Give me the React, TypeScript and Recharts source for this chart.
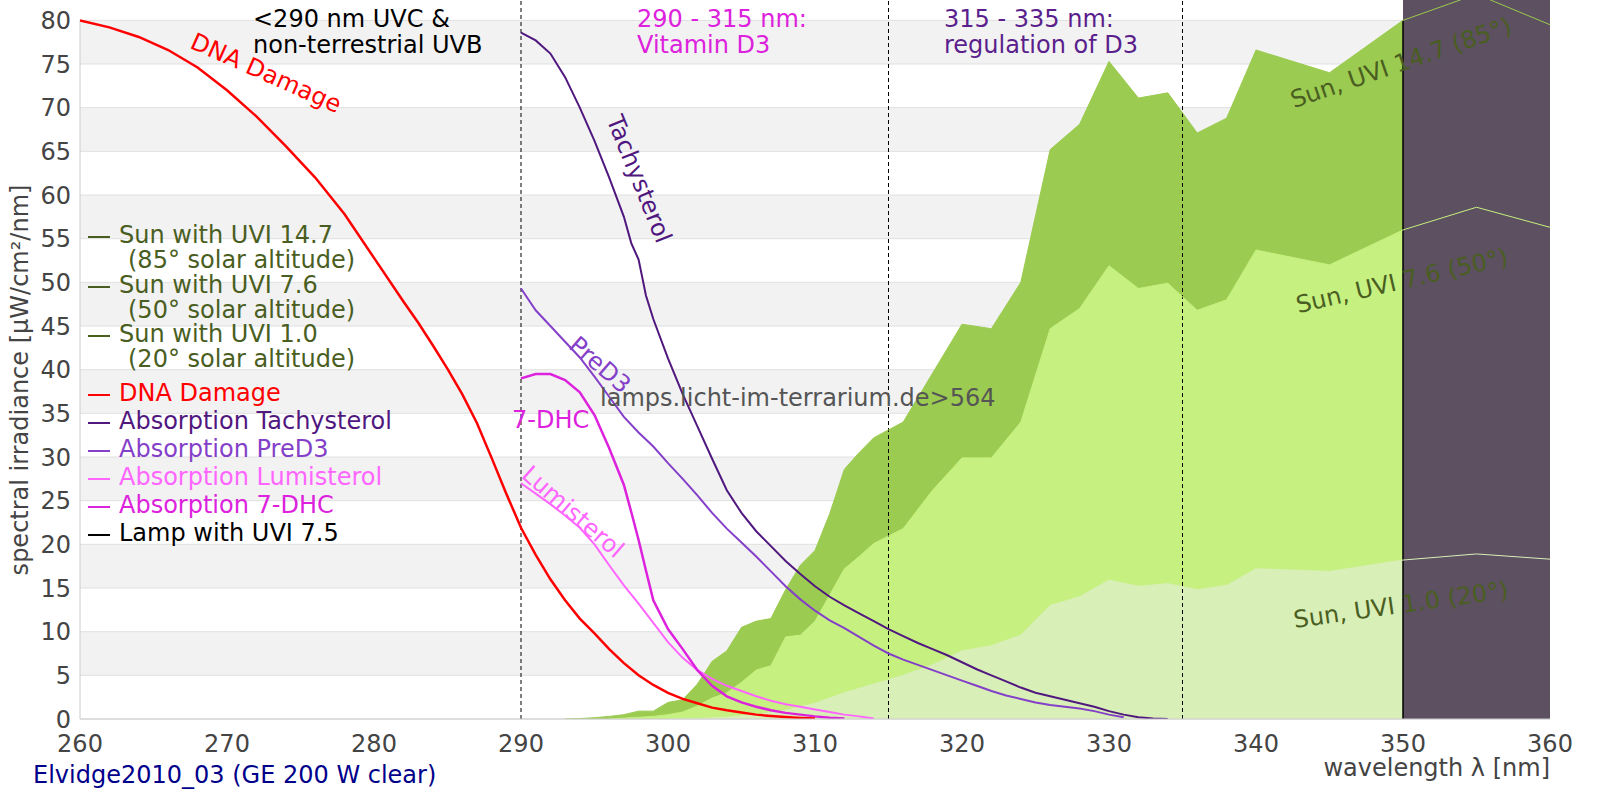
import { ComposedChart, Area, Line, XAxis, YAxis, ReferenceArea, ReferenceLine } from 'recharts';

// axis + background
const xTicks = [260, 270, 280, 290, 300, 310, 320, 330, 340, 350, 360];
const yTicks = [0, 5, 10, 15, 20, 25, 30, 35, 40, 45, 50, 55, 60, 65, 70, 75, 80];
const bandStarts = [5, 15, 25, 35, 45, 55, 65, 75];
const zoneBorders = [290, 315, 335];

// sun spectra (µW/cm²/nm)
const sun147Nm = [293, 294, 295, 296, 297, 298, 299, 300, 301, 302, 303, 304, 305, 306, 307, 308, 309, 310, 311, 312, 313, 314,
  316, 318, 320, 322, 324, 326, 328, 330, 332, 334, 336, 338, 340, 345, 350, 355, 360];
const sun147 = [0, 0.05, 0.15, 0.3, 0.5, 0.9, 0.9, 1.9, 2.2, 4.0, 6.6, 7.8, 10.5, 11.2, 11.5, 14.8, 17.6, 19.3, 23.5, 28.6, 30.5, 32.2,
  34.0, 39.6, 45.2, 44.7, 50.0, 65.2, 68.1, 75.3, 71.1, 71.7, 67.1, 68.8, 76.6, 74.0, 80.0, 83.0, 79.5];

const sun76Nm = [296, 297, 298, 299, 300, 301, 302, 303, 304, 305, 306, 307, 308, 309, 310, 311, 312, 313, 314,
  316, 318, 320, 322, 324, 326, 328, 330, 332, 334, 336, 338, 340, 345, 350, 355, 360];
const sun76 = [0, 0.1, 0.2, 0.3, 0.5, 0.8, 1.5, 2.4, 3.0, 4.2, 5.6, 6.1, 9.4, 9.6, 11.2, 14.2, 17.2, 18.6, 20.1,
  21.8, 26.2, 29.9, 29.9, 34.0, 44.7, 47.0, 51.9, 49.3, 49.9, 46.8, 48.0, 53.7, 52.0, 56.0, 58.6, 56.3];

const sun10Nm = [300, 302, 304, 306, 308, 310, 312, 314, 316, 318, 320, 322, 324, 326, 328, 330, 332, 334, 336, 338, 340, 345, 350, 355, 360];
const sun10 = [0, 0.05, 0.2, 0.5, 1.0, 1.8, 3.0, 4.0, 5.0, 6.2, 7.8, 8.4, 9.6, 13.0, 14.0, 15.9, 15.2, 15.5, 14.8, 15.3, 17.2, 16.9, 18.2, 18.9, 18.3];

// lamp (off scale from 350 nm)
const lampNm = [350, 355, 360];
const lamp = [95, 95, 95];

// action / absorption spectra (scaled)
const dnaNm = [260, 262, 264, 266, 268, 270, 272, 274, 276, 278, 280, 282, 283, 284, 285, 286, 287, 288, 289, 290,
  291, 292, 293, 294, 295, 296, 297, 298, 299, 300, 301, 302, 303, 304, 305, 306, 307, 308, 309, 310];
const dna = [80, 79.2, 78.1, 76.6, 74.6, 72.0, 69.0, 65.6, 62.0, 57.8, 52.8, 47.8, 45.4, 42.8, 40.1, 37.2, 33.9, 29.9, 25.8, 21.9,
  18.8, 16.0, 13.6, 11.5, 9.8, 8.0, 6.4, 5.0, 3.9, 3.0, 2.3, 1.8, 1.3, 1.0, 0.75, 0.5, 0.35, 0.22, 0.12, 0.05];

const tachyNm = [290, 291, 292, 293, 294, 295, 296, 297, 297.5, 298, 298.5, 299,
  300, 301, 302, 303, 304, 305, 306, 307, 308, 309, 310, 311, 312, 313, 314, 315, 316, 317, 318, 319,
  320, 321, 322, 323, 324, 325, 326, 327, 328, 329, 330, 331, 332, 333, 334];
const tachy = [78.6, 77.7, 76.2, 73.5, 70.0, 66.2, 62.0, 57.5, 54.5, 52.6, 48.5, 45.8,
  41.3, 37.2, 33.5, 29.8, 26.2, 23.6, 21.5, 19.8, 18.1, 16.6, 15.2, 14.0, 13.0, 12.1, 11.2, 10.3, 9.5, 8.7, 8.0, 7.3,
  6.5, 5.7, 5.0, 4.3, 3.6, 3.0, 2.6, 2.2, 1.8, 1.4, 0.9, 0.5, 0.2, 0.05, 0];

const preD3Nm = [290, 291, 292, 293, 294, 295, 296, 297, 298, 299, 300, 301, 302, 303, 304, 305, 306, 307, 308, 309,
  310, 311, 312, 313, 314, 315, 316, 317, 318, 319, 320, 321, 322, 323, 324, 325, 326, 327, 328, 329, 330, 331];
const preD3 = [49.3, 46.8, 45.0, 43.2, 41.4, 39.2, 36.9, 34.6, 32.8, 31.2, 29.3, 27.5, 25.6, 23.6, 21.8, 20.2, 18.6, 16.9, 15.2, 13.7,
  12.4, 11.3, 10.4, 9.4, 8.4, 7.5, 6.8, 6.2, 5.6, 5.0, 4.4, 3.8, 3.2, 2.7, 2.3, 1.9, 1.6, 1.4, 1.2, 0.9, 0.5, 0.2];

const lumiNm = [290, 291, 292, 293, 294, 295, 296, 297, 298, 299, 300, 301, 302, 303, 304, 305, 306, 307, 308, 309,
  310, 311, 312, 313, 314];
const lumi = [27.0, 25.8, 24.6, 23.3, 21.9, 20.0, 17.6, 15.3, 13.2, 11.0, 8.8, 7.0, 5.6, 4.6, 3.8, 3.2, 2.6, 2.1, 1.7, 1.4,
  1.1, 0.8, 0.5, 0.3, 0.05];

const dhcNm = [290, 291, 292, 293, 294, 295, 296, 297, 297.5, 298, 298.5, 299, 300, 301, 302, 303, 304, 305, 306, 307,
  308, 309, 310, 311, 312];
const dhc = [39.0, 39.5, 39.5, 38.8, 37.4, 34.8, 31.0, 26.8, 23.7, 20.5, 17.0, 13.6, 10.3, 8.0, 5.6, 3.8, 2.6, 1.9, 1.4, 1.0,
  0.7, 0.5, 0.3, 0.15, 0.05];

const seriesList: [string, number[], number[]][] = [
  ['sun147', sun147Nm, sun147],
  ['sun76', sun76Nm, sun76],
  ['sun10', sun10Nm, sun10],
  ['lamp', lampNm, lamp],
  ['dna', dnaNm, dna],
  ['tachy', tachyNm, tachy],
  ['preD3', preD3Nm, preD3],
  ['lumi', lumiNm, lumi],
  ['dhc', dhcNm, dhc],
];

const allNm = Array.from(new Set(seriesList.flatMap(([, xs]) => xs))).sort((a, b) => a - b);
const table = allNm.map((nm) => {
  const row: Record<string, number | null> = { nm };
  seriesList.forEach(([key, xs, ys]) => {
    const i = xs.indexOf(nm);
    row[key] = i >= 0 ? ys[i] : null;
  });
  return row;
});

const FONT = 'DejaVu Sans, sans-serif';
const FS = 24;
const OLIVE = '#4a5e22';

const legendItems = [
  { label: 'Sun with UVI 14.7', sub: '(85° solar altitude)', color: OLIVE, y: 235 },
  { label: 'Sun with UVI 7.6', sub: '(50° solar altitude)', color: OLIVE, y: 285 },
  { label: 'Sun with UVI 1.0', sub: '(20° solar altitude)', color: OLIVE, y: 334 },
  { label: 'DNA Damage', color: '#ff0000', y: 393 },
  { label: 'Absorption Tachysterol', color: '#50187f', y: 421 },
  { label: 'Absorption PreD3', color: '#8440c8', y: 449 },
  { label: 'Absorption Lumisterol', color: '#ff66ff', y: 477 },
  { label: 'Absorption 7-DHC', color: '#dd22dd', y: 505 },
  { label: 'Lamp with UVI 7.5', color: '#000000', y: 533 },
];

function Overlay() {
  return (
    <svg width={1600} height={800} style={{ position: 'absolute', left: 0, top: 0, pointerEvents: 'none' }}
      fontFamily={FONT} fontSize={FS}>
      <text x={20} y={380} fill="#444" textAnchor="middle" dominantBaseline="central" transform="rotate(-90 20 380)">
        spectral irradiance [µW/cm²/nm]
      </text>
      <text x={1550} y={768} fill="#444" textAnchor="end" dominantBaseline="central">wavelength λ [nm]</text>
      <text x={33} y={775} fill="#00008b" dominantBaseline="central">Elvidge2010_03 (GE 200 W clear)</text>

      <text x={253} y={19} fill="#000" dominantBaseline="central">&lt;290 nm UVC &amp;</text>
      <text x={253} y={45} fill="#000" dominantBaseline="central">non-terrestrial UVB</text>
      <text x={637} y={19} fill="#dd22dd" dominantBaseline="central">290 - 315 nm:</text>
      <text x={637} y={45} fill="#dd22dd" dominantBaseline="central">Vitamin D3</text>
      <text x={944} y={19} fill="#5a1f8c" dominantBaseline="central">315 - 335 nm:</text>
      <text x={944} y={45} fill="#5a1f8c" dominantBaseline="central">regulation of D3</text>

      <text x={266} y={73} fill="#ff0000" textAnchor="middle" dominantBaseline="central" transform="rotate(24 266 73)">DNA Damage</text>
      <text x={639} y={179} fill="#50187f" textAnchor="middle" dominantBaseline="central" transform="rotate(68 639 179)">Tachysterol</text>
      <text x={600} y={365} fill="#8440c8" textAnchor="middle" dominantBaseline="central" transform="rotate(41 600 365)">PreD3</text>
      <text x={512} y={420} fill="#dd22dd" dominantBaseline="central">7-DHC</text>
      <text x={573} y={512} fill="#ff66ff" textAnchor="middle" dominantBaseline="central" transform="rotate(41 573 512)">Lumisterol</text>
      <text x={600} y={398} fill="#555" dominantBaseline="central">lamps.licht-im-terrarium.de&gt;564</text>

      <text x={1401} y={63} fill={OLIVE} textAnchor="middle" dominantBaseline="central" transform="rotate(-19 1401 63)">Sun, UVI 14.7 (85°)</text>
      <text x={1402} y={281} fill={OLIVE} textAnchor="middle" dominantBaseline="central" transform="rotate(-13 1402 281)">Sun, UVI 7.6 (50°)</text>
      <text x={1401} y={605} fill={OLIVE} textAnchor="middle" dominantBaseline="central" transform="rotate(-8 1401 605)">Sun, UVI 1.0 (20°)</text>

      {legendItems.map((it) => (
        <g key={it.label}>
          <line x1={88} x2={110} y1={it.y + 2} y2={it.y + 2} stroke={it.color} strokeWidth={2} />
          <text x={119} y={it.y} fill={it.color} dominantBaseline="central">{it.label}</text>
          {it.sub && <text x={128} y={it.y + 25} fill={it.color} dominantBaseline="central">{it.sub}</text>}
        </g>
      ))}
    </svg>
  );
}

export default function App() {
  return (
    <div style={{ position: 'absolute', left: 0, top: 0, width: 1600, height: 800, background: '#fff' }}>
      <ComposedChart width={1600} height={800} data={table} margin={{ top: 0, right: 50, bottom: 51, left: 0 }}>
        <XAxis
          dataKey="nm"
          type="number"
          domain={[260, 360]}
          ticks={xTicks}
          allowDataOverflow
          height={30}
          tickLine={false}
          tickSize={6}
          tickMargin={10}
          axisLine={{ stroke: '#cccccc' }}
          tick={{ fontSize: FS, fill: '#444', fontFamily: FONT }}
        />
        <YAxis
          type="number"
          domain={[0, 82.33]}
          ticks={yTicks}
          allowDataOverflow
          width={80}
          tickLine={false}
          tickSize={4}
          tickMargin={5}
          axisLine={false}
          tick={{ fontSize: FS, fill: '#444', fontFamily: FONT }}
        />

        {bandStarts.map((b) => (
          <ReferenceArea key={'band' + b} x1={260} x2={360} y1={b} y2={b + 5} fill="#f2f2f2" fillOpacity={1} stroke="none" zIndex={-300} />
        ))}
        {yTicks.map((t) => (
          <ReferenceLine key={'grid' + t} y={t} stroke="#e0e0e0" strokeWidth={1} zIndex={-200} />
        ))}
        <ReferenceLine segment={[{ x: 260, y: 0 }, { x: 260, y: 80 }]} stroke="#cccccc" zIndex={-200} />

        <Area type="linear" dataKey="sun147" fill="#9bcb50" fillOpacity={1} stroke="none" connectNulls dot={false} activeDot={false} isAnimationActive={false} zIndex={10} />
        <Area type="linear" dataKey="sun76" fill="#c6f080" fillOpacity={1} stroke="none" connectNulls dot={false} activeDot={false} isAnimationActive={false} zIndex={11} />
        <Area type="linear" dataKey="sun10" fill="#d9efb8" fillOpacity={1} stroke="none" connectNulls dot={false} activeDot={false} isAnimationActive={false} zIndex={12} />

        {zoneBorders.map((x) => (
          <ReferenceLine key={'zone' + x} x={x} stroke="#000" strokeDasharray="4 3" strokeWidth={1} zIndex={20} />
        ))}

        <Area type="linear" dataKey="lamp" fill="#5d5060" fillOpacity={1} stroke="none" connectNulls dot={false} activeDot={false} isAnimationActive={false} zIndex={30} />
        <ReferenceLine segment={[{ x: 350, y: 0 }, { x: 350, y: 80 }]} stroke="#000" strokeWidth={1.5} zIndex={31} />

        <Line type="linear" dataKey="sun147" stroke="#9bcb50" strokeWidth={1} connectNulls dot={false} activeDot={false} isAnimationActive={false} zIndex={40} />
        <Line type="linear" dataKey="sun76" stroke="#c6f080" strokeWidth={1} connectNulls dot={false} activeDot={false} isAnimationActive={false} zIndex={41} />
        <Line type="linear" dataKey="sun10" stroke="#d9efb8" strokeWidth={1} connectNulls dot={false} activeDot={false} isAnimationActive={false} zIndex={42} />

        <Line type="linear" dataKey="lumi" stroke="#ff66ff" strokeWidth={2} connectNulls dot={false} activeDot={false} isAnimationActive={false} zIndex={50} />
        <Line type="linear" dataKey="dhc" stroke="#dd22dd" strokeWidth={2.5} connectNulls dot={false} activeDot={false} isAnimationActive={false} zIndex={51} />
        <Line type="linear" dataKey="preD3" stroke="#8440c8" strokeWidth={2} connectNulls dot={false} activeDot={false} isAnimationActive={false} zIndex={52} />
        <Line type="linear" dataKey="tachy" stroke="#50187f" strokeWidth={2} connectNulls dot={false} activeDot={false} isAnimationActive={false} zIndex={53} />
        <Line type="linear" dataKey="dna" stroke="#ff0000" strokeWidth={2.5} connectNulls dot={false} activeDot={false} isAnimationActive={false} zIndex={54} />
      </ComposedChart>
      <Overlay />
    </div>
  );
}
